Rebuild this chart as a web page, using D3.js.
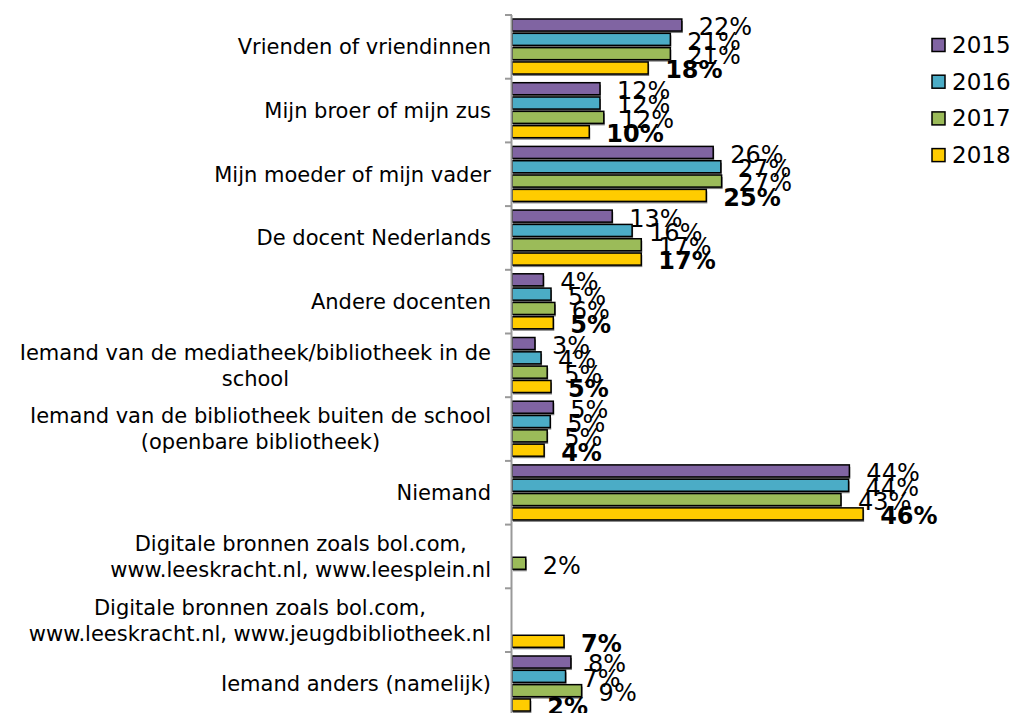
<!DOCTYPE html>
<html>
<head>
<meta charset="utf-8">
<script src="https://cdn.jsdelivr.net/npm/d3@7"></script>
<style>
  body { margin: 0; background: #fff; }
  svg { display: block; font-family: "DejaVu Sans", Verdana, sans-serif; }
</style>
</head>
<body>
<div id="chart"></div>
<script>
const categories = [
  "Vrienden of vriendinnen",
  "Mijn broer of mijn zus",
  "Mijn moeder of mijn vader",
  "De docent Nederlands",
  "Andere docenten",
  "Iemand van de mediatheek/bibliotheek in de|school",
  "Iemand van de bibliotheek buiten de school|(openbare bibliotheek)",
  "Niemand",
  "Digitale bronnen zoals bol.com,|www.leeskracht.nl, www.leesplein.nl",
  "Digitale bronnen zoals bol.com,|www.leeskracht.nl, www.jeugdbibliotheek.nl",
  "Iemand anders (namelijk)"
];
const years = ["2015", "2016", "2017", "2018"];
const colors = ["#8064a2", "#4bacc6", "#9bbb59", "#ffcc00"];

const values2015 = [22.2, 11.5, 26.3, 13.1, 4.1, 3.0, 5.4, 44.1, null, null, 7.7];
const values2016 = [20.7, 11.5, 27.3, 15.7, 5.1, 3.8, 5.0, 44.0, null, null, 7.0];
const values2017 = [20.7, 12.0, 27.4, 16.9, 5.6, 4.6, 4.6, 43.0, 1.8, null, 9.1];
const values2018 = [17.8, 10.1, 25.4, 16.9, 5.4, 5.1, 4.2, 45.9, null, 6.8, 2.4];
const series = [values2015, values2016, values2017, values2018];

const width = 1013, height = 713;

const svg = d3.select("#chart").append("svg")
  .attr("width", width)
  .attr("height", height);

const x = d3.scaleLinear().domain([0, 50]).range([512, 894.5]);
const y = d3.scaleBand().domain(categories).range([15, 15 + 63.7 * 11]);
const yInner = d3.scaleBand().domain(years).range([4, 59]).paddingInner(0.16);

// bars + labels
const rows = [];
categories.forEach((c, ci) => {
  years.forEach((yr, si) => {
    const v = series[si][ci];
    if (v !== null) rows.push({ cat: c, year: yr, si: si, value: v });
  });
});

const barG = svg.append("g");
// soft shadow under each bar
barG.selectAll("rect.shadow").data(rows).enter().append("rect")
  .attr("class", "shadow")
  .attr("x", x(0) + 1)
  .attr("y", d => y(d.cat) + yInner(d.year) + 2)
  .attr("width", d => x(d.value) - x(0))
  .attr("height", yInner.bandwidth())
  .attr("fill", "#7f7f7f");

barG.selectAll("rect.bar").data(rows).enter().append("rect")
  .attr("class", "bar")
  .attr("x", x(0))
  .attr("y", d => y(d.cat) + yInner(d.year))
  .attr("width", d => x(d.value) - x(0))
  .attr("height", yInner.bandwidth())
  .attr("fill", d => colors[d.si])
  .attr("stroke", "#000")
  .attr("stroke-width", 1.5);

// axis
const axisG = svg.append("g").attr("stroke", "#999").attr("stroke-width", 2);
axisG.append("line")
  .attr("x1", x(0) - 0.5).attr("x2", x(0) - 0.5)
  .attr("y1", y.range()[0]).attr("y2", y.range()[1]);
const tickYs = categories.map(c => y(c)).concat([y.range()[1]]);
axisG.selectAll("line.tick").data(tickYs).enter().append("line")
  .attr("class", "tick")
  .attr("x1", x(0) - 7).attr("x2", x(0))
  .attr("y1", d => d).attr("y2", d => d);

// category labels (multi-line ones are centred on the widest line)
const labelG = svg.append("g").attr("font-size", 21).attr("fill", "#000");
categories.forEach(c => {
  const lines = c.split("|");
  const cy = y(c) + y.bandwidth() / 2;
  const lh = 26;
  const t = labelG.append("text")
    .attr("text-anchor", lines.length > 1 ? "middle" : "end");
  const spans = lines.map((l, i) => t.append("tspan")
    .attr("y", cy + (i - (lines.length - 1) / 2) * lh)
    .attr("dy", "0.35em")
    .text(l));
  if (lines.length > 1) {
    const maxW = d3.max(spans, s => s.node().getComputedTextLength());
    spans.forEach(s => s.attr("x", 491 - maxW / 2));
  } else {
    spans[0].attr("x", 491);
  }
});

// value labels
svg.append("g").selectAll("text").data(rows).enter().append("text")
  .attr("x", d => x(d.value) + 17)
  .attr("y", d => y(d.cat) + yInner(d.year) + yInner.bandwidth() / 2 + 2)
  .attr("dy", "0.35em")
  .attr("font-size", 24)
  .attr("font-weight", d => d.year === "2018" ? "bold" : "normal")
  .attr("fill", "#000")
  .text(d => Math.round(d.value) + "%");

// legend
const legend = svg.append("g").attr("transform", "translate(932,45)");
years.forEach((yr, i) => {
  const g = legend.append("g").attr("transform", `translate(0,${i * 36.7})`);
  g.append("rect")
    .attr("x", 0).attr("y", -6.5)
    .attr("width", 13).attr("height", 13)
    .attr("fill", colors[i])
    .attr("stroke", "#000").attr("stroke-width", 1.5);
  g.append("text")
    .attr("x", 20).attr("dy", "0.35em")
    .attr("font-size", 23)
    .text(yr);
});
</script>
</body>
</html>
